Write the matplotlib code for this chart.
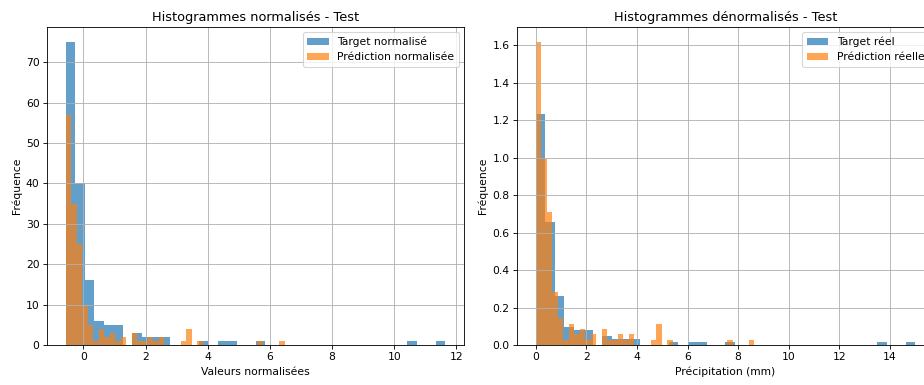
import matplotlib
matplotlib.use("Agg")
import matplotlib.pyplot as plt
import numpy as np

# denormalisation parameters (precip = z * STD + MEAN)
MEAN = 0.69
STD = 1.23

# 40-bin histogram counts (normalised scale)
target_min, target_max = -0.561, 11.634
target_counts = [75, 40, 16, 6, 5, 5, 0, 3, 2, 2,
                 2, 0, 0, 0, 1, 0, 1, 1, 0, 0,
                 1, 0, 0, 0, 0, 0, 0, 0, 0, 0,
                 0, 0, 0, 0, 0, 0, 1, 0, 0, 1]

pred_min, pred_max = -0.561, 6.47
pred_counts = [57, 35, 25, 10, 5, 1, 4, 2, 3, 1,
               2, 0, 3, 1, 1, 2, 1, 2, 0, 0,
               0, 1, 4, 0, 1, 0, 0, 0, 0, 0,
               0, 0, 0, 0, 0, 1, 0, 0, 0, 1]

t_edges = np.linspace(target_min, target_max, len(target_counts) + 1)
p_edges = np.linspace(pred_min, pred_max, len(pred_counts) + 1)

fig = plt.figure(figsize=(12, 5), dpi=77)
ax1 = fig.add_axes([0.0509, 0.1039, 0.4513, 0.826])
ax2 = fig.add_axes([0.5595, 0.1039, 0.4513, 0.826])

# normalised
ax1.hist(t_edges[:-1], bins=t_edges, weights=target_counts, alpha=0.7, label='Target normalisé')
ax1.hist(p_edges[:-1], bins=p_edges, weights=pred_counts, alpha=0.7, label='Prédiction normalisée')
ax1.set_title('Histogrammes normalisés - Test')
ax1.set_xlabel('Valeurs normalisées')
ax1.set_ylabel('Fréquence')
ax1.legend(loc='upper right')
ax1.grid(True)

# denormalised
t_mm = t_edges * STD + MEAN
p_mm = p_edges * STD + MEAN
ax2.hist(t_mm[:-1], bins=t_mm, weights=target_counts, density=True, alpha=0.7, label='Target réel')
ax2.hist(p_mm[:-1], bins=p_mm, weights=pred_counts, density=True, alpha=0.7, label='Prédiction réelle')
ax2.set_title('Histogrammes dénormalisés - Test')
ax2.set_xlabel('Précipitation (mm)')
ax2.set_ylabel('Fréquence')
ax2.legend(loc='upper right')
ax2.grid(True)

fig.savefig('out.png', dpi=77)
